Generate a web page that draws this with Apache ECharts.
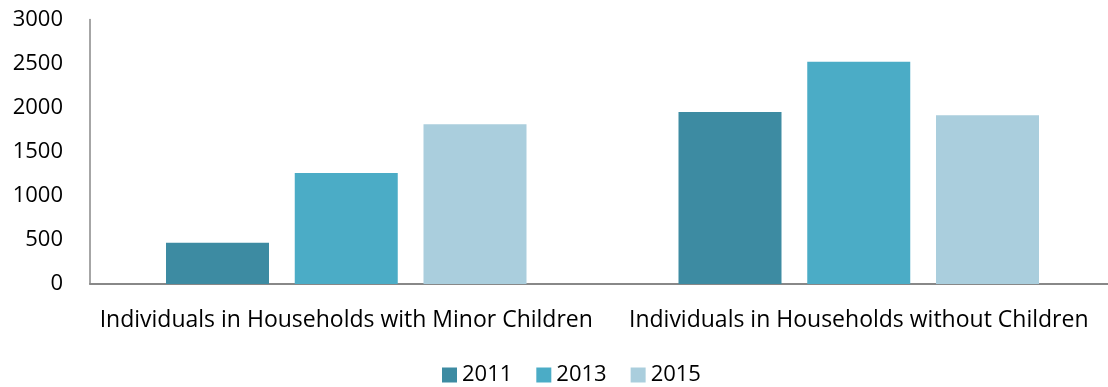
<!DOCTYPE html>
<html>
<head>
<meta charset="utf-8">
<script src="https://cdn.jsdelivr.net/npm/echarts@6/dist/echarts.min.js"></script>
<style>html,body{margin:0;padding:0;background:#fff}#c{width:1108px;height:387px}</style>
</head>
<body>
<div id="c"></div>
<script>
const categories = ['Individuals in Households with Minor Children', 'Individuals in Households without Children'];
const seriesNames = ['2011', '2013', '2015'];
const values2011 = [468, 1951];
const values2013 = [1259, 2521];
const values2015 = [1811, 1913];
const yTicks = { min: 0, max: 3000, interval: 500 };

const colors = ['#3D8BA2', '#4BACC6', '#AACEDD'];
const font = '"Open Sans", "Liberation Sans", sans-serif';
const chart = echarts.init(document.getElementById('c'), null, { renderer: 'canvas' });
const data = [values2011, values2013, values2015];
chart.setOption({
  animation: false,
  grid: { left: 90, width: 1025, top: 19.5, height: 264.5, containLabel: false, outerBoundsMode: 'none' },
  legend: {
    data: seriesNames,
    left: 442, top: 364,
    padding: 0,
    itemWidth: 15, itemHeight: 15, itemGap: 24,
    icon: 'rect',
    textStyle: { fontFamily: font, fontSize: 22, color: '#000' },
  },
  xAxis: {
    type: 'category',
    data: categories,
    axisLine: { lineStyle: { color: '#888', width: 2 } },
    axisTick: { show: false },
    axisLabel: { fontFamily: font, fontSize: 23, color: '#000', margin: 25, interval: 0 },
  },
  yAxis: {
    type: 'value',
    min: yTicks.min, max: yTicks.max, interval: yTicks.interval,
    axisLine: { show: true, lineStyle: { color: '#888', width: 1.5 } },
    axisTick: { show: false },
    splitLine: { show: false },
    axisLabel: { fontFamily: font, fontSize: 22, color: '#000', margin: 27, formatter: v => String(v) },
  },
  series: seriesNames.map((n, i) => ({
    name: n, type: 'bar', data: data[i],
    barWidth: 103, barGap: '25%',
    itemStyle: { color: colors[i] },
  })),
});
</script>
</body>
</html>
